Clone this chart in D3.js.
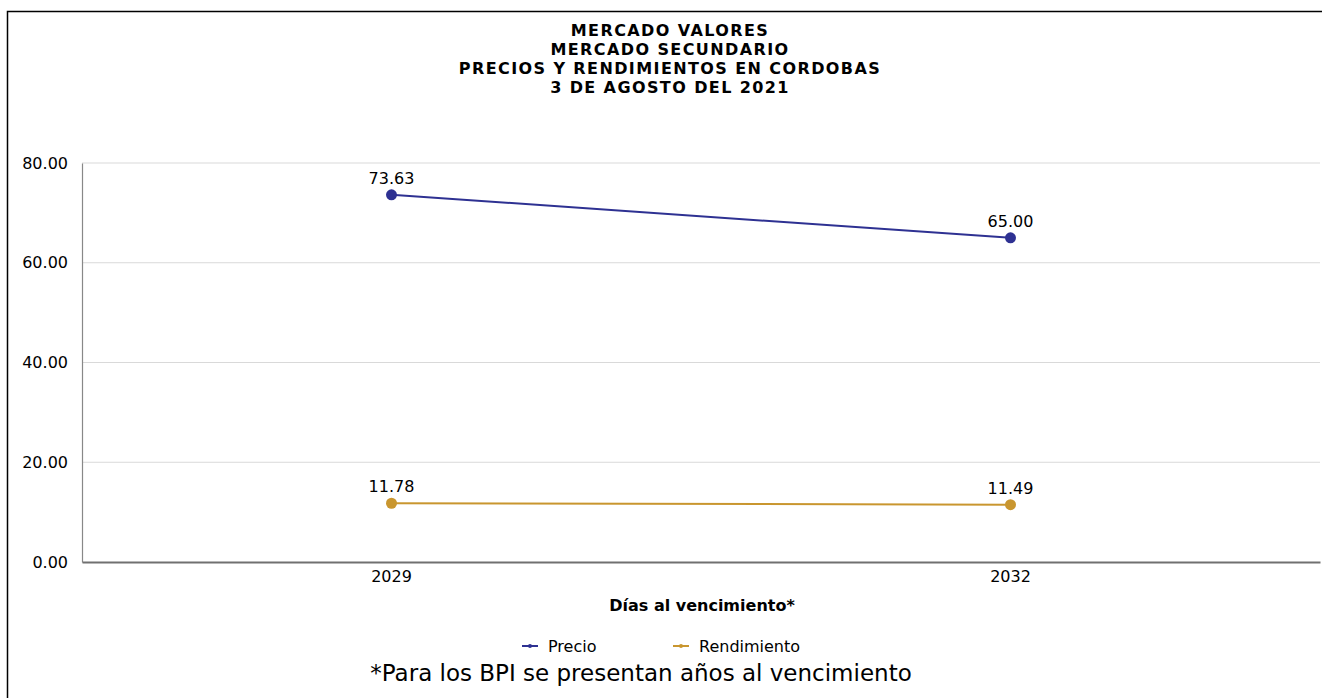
<!DOCTYPE html>
<html>
<head>
<meta charset="utf-8">
<script src="https://cdn.jsdelivr.net/npm/d3@7/dist/d3.min.js"></script>
<style>
  body { margin: 0; background: #fff; overflow: hidden; }
  svg { display: block; }
  text { font-family: "DejaVu Sans", sans-serif; fill: #000; }
</style>
</head>
<body>
<script>
var width = 1322;
var height = 698;

// data
var titleLines = ["MERCADO VALORES", "MERCADO SECUNDARIO", "PRECIOS Y RENDIMIENTOS EN CORDOBAS", "3 DE AGOSTO DEL 2021"];
var categories = ["2029", "2032"];
var precio = [73.63, 65.00];
var rendimiento = [11.78, 11.49];
var yTicks = [0, 20, 40, 60, 80];
var seriesNames = ["Precio", "Rendimiento"];
var seriesColors = ["#2e3192", "#c9962f"];

var plot = {left: 82, right: 1320, top: 163, bottom: 562};

var svg = d3.select("body").append("svg")
    .attr("width", width)
    .attr("height", height);

// outer frame (only left and top visible)
svg.append("path")
    .attr("d", "M7.5," + height + " V11.5 H" + width)
    .attr("fill", "none")
    .attr("stroke", "#000")
    .attr("stroke-width", 1.5);

// title
svg.append("g").selectAll("text").data(titleLines).enter().append("text")
    .attr("x", 670)
    .attr("y", function(d, i) { return 36 + i * 19; })
    .attr("text-anchor", "middle")
    .attr("font-size", "16px")
    .attr("letter-spacing", "1.4px")
    .attr("font-weight", "bold")
    .text(function(d) { return d; });

//scales
var x = d3.scaleBand().domain(categories).range([plot.left, plot.right]);
var y = d3.scaleLinear().domain([0, 80]).range([plot.bottom, plot.top]);
function cx(d) { return x(d) + x.bandwidth() / 2; }

//gridlines
svg.append("g").selectAll("line").data(yTicks.slice(1)).enter().append("line")
    .attr("x1", plot.left).attr("x2", plot.right)
    .attr("y1", function(d) { return y(d); })
    .attr("y2", function(d) { return y(d); })
    .attr("stroke", "#d9d9d9")
    .attr("stroke-width", 1);

//y axis
var yAxis = d3.axisLeft(y).tickValues(yTicks).tickSize(0).tickPadding(14).tickFormat(d3.format(".2f"));
var gy = svg.append("g")
    .attr("transform", "translate(" + plot.left + ",0)")
    .call(yAxis);
gy.select(".domain").attr("stroke", "#888").attr("stroke-width", 1.2);
gy.selectAll("text").attr("font-size", "16px").attr("font-family", "DejaVu Sans").attr("fill", "#000");

//x axis
var xAxis = d3.axisBottom(x).tickSize(0).tickPadding(9);
var gx = svg.append("g")
    .attr("transform", "translate(0," + plot.bottom + ")")
    .call(xAxis);
gx.select(".domain").attr("stroke", "#707070").attr("stroke-width", 2);
gx.selectAll("text").attr("font-size", "16px").attr("font-family", "DejaVu Sans").attr("fill", "#000");

svg.append("text")
    .attr("x", 702).attr("y", 611)
    .attr("text-anchor", "middle")
    .attr("font-size", "16px")
    .attr("font-weight", "bold")
    .text("Días al vencimiento*");

//series
var series = [precio, rendimiento];
var line = d3.line()
    .x(function(d, i) { return cx(categories[i]); })
    .y(function(d) { return y(d); });

series.forEach(function(vals, s) {
    var g = svg.append("g");
    g.append("path")
        .datum(vals)
        .attr("d", line)
        .attr("fill", "none")
        .attr("stroke", seriesColors[s])
        .attr("stroke-width", 2);
    g.selectAll("circle").data(vals).enter().append("circle")
        .attr("cx", function(d, i) { return cx(categories[i]); })
        .attr("cy", function(d) { return y(d); })
        .attr("r", 5.5)
        .attr("fill", seriesColors[s]);
    g.selectAll("text").data(vals).enter().append("text")
        .attr("x", function(d, i) { return cx(categories[i]); })
        .attr("y", function(d) { return y(d) - 11; })
        .attr("text-anchor", "middle")
        .attr("font-size", "16px")
        .text(function(d) { return d3.format(".2f")(d); });
});

//legend
var legendX = [522, 673];
var lg = svg.append("g").selectAll("g").data(seriesNames).enter().append("g")
    .attr("transform", function(d, i) { return "translate(" + legendX[i] + ",646)"; });
lg.append("line")
    .attr("x1", 0).attr("x2", 16)
    .attr("stroke", function(d, i) { return seriesColors[i]; })
    .attr("stroke-width", 2);
lg.append("circle")
    .attr("cx", 8).attr("r", 2)
    .attr("fill", function(d, i) { return seriesColors[i]; });
lg.append("text")
    .attr("x", 26).attr("y", 6)
    .attr("font-size", "16px")
    .text(function(d) { return d; });

//footnote
svg.append("text")
    .attr("x", 641).attr("y", 681)
    .attr("text-anchor", "middle")
    .attr("font-size", "23px")
    .text("*Para los BPI se presentan años al vencimiento");
</script>
</body>
</html>
